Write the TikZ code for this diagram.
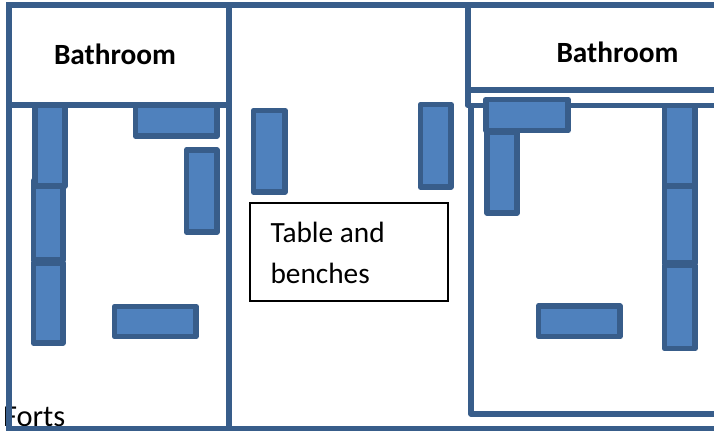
\documentclass[tikz,border=0pt]{standalone}
\usepackage{fontspec}
\setmainfont{Carlito}
\definecolor{wall}{HTML}{385D8A}
\definecolor{benchfill}{HTML}{4F81BD}
\tikzset{
  x=0.75pt,y=-0.75pt,
  wallline/.style={draw=wall,line width=4.3pt,line join=miter},
  bench/.style={draw=wall,fill=benchfill,line width=4.3pt,line join=round},
  label/.style={anchor=base west,inner sep=0pt,outer sep=0pt,font=\fontsize{22}{26}\selectfont,text=black},
  boldlabel/.style={label,font=\fontsize{22}{26}\selectfont\bfseries},
}
\begin{document}
\begin{tikzpicture}
\useasboundingbox (0,0) rectangle (714,431);
\clip (0,0) rectangle (714,431);
\fill[white] (0,0) rectangle (714,431);
% text under the wall
\node[label,font=\fontsize{22.8}{26}\selectfont] (forts) at (3,426) {Forts};
% outer walls
\draw[wallline] (716,5) -- (9,5) -- (9,429) -- (716,429);
\draw[wallline] (229,5) -- (229,429);
\draw[wallline] (9,105) -- (229,105);
% right bathroom and room
\draw[wallline] (716,90) -- (468,90);
\draw[wallline,line join=round] (468,5) -- (468,105.5) -- (716,105.5);
\draw[wallline,line join=round] (471,105) -- (471,414) -- (716,414);
% left room benches
\draw[bench] (33.5,180.5) rectangle (63,260);
\draw[bench] (33.5,263) rectangle (63,343);
\draw[bench] (35,105.5) rectangle (65,186);
\draw[bench] (135.5,105.5) rectangle (217,136);
\draw[bench] (186.5,150) rectangle (217,232);
\draw[bench] (114.5,306.5) rectangle (196,336.5);
% middle benches
\draw[bench] (253.5,110.5) rectangle (285,192);
\draw[bench] (420.5,104.5) rectangle (451,187);
% right room benches
\draw[bench] (487,132) rectangle (517,213);
\draw[bench] (486,99.5) rectangle (568,130.5);
\draw[bench] (664.5,105.5) rectangle (695,186);
\draw[bench] (664.5,186) rectangle (695,263);
\draw[bench] (664.5,265.5) rectangle (695,348.5);
\draw[bench] (538.5,306) rectangle (620,336.5);
% table
\draw[black,line width=1.6pt,fill=white] (250,203) rectangle (448,301);
\node[label] (tablea) at (270.5,243) {Table and};
\node[label] (tableb) at (270.5,283) {benches};
% labels
\node[boldlabel] (bathl) at (54,65) {Bathroom};
\node[boldlabel] (bathr) at (556.5,63) {Bathroom};
\end{tikzpicture}
\end{document}
